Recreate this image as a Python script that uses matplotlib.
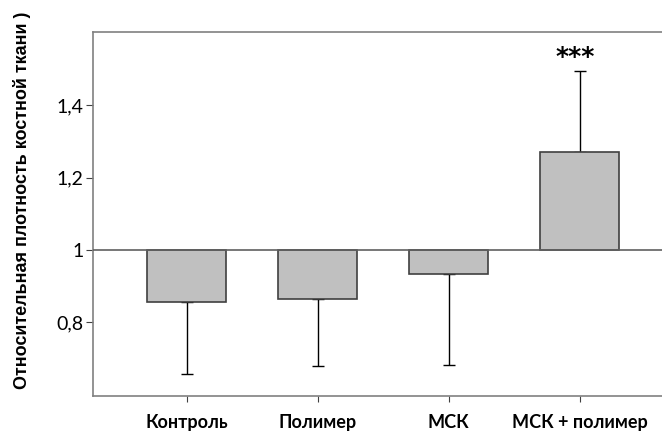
import numpy as np
import matplotlib
matplotlib.use('Agg')
import matplotlib.pyplot as plt

# Values (baseline = 1)
groups = ['Контроль', 'Полимер', 'МСК', 'МСК + полимер']
values = [0.857, 0.864, 0.933, 1.271]
errors = [0.201, 0.185, 0.252, 0.225]
y_ticks = [0.8, 1.0, 1.2, 1.4]
y_tick_labels = ['0,8', '1', '1,2', '1,4']
baseline = 1.0

plt.rcParams['font.family'] = ['Lato', 'DejaVu Sans']

fig = plt.figure(figsize=(6.62, 4.44), dpi=100)
ax = fig.add_axes([93 / 662, 48 / 444, 1 - 93 / 662 + 0.01, 364 / 444])

x = np.arange(len(groups))
heights = [v - baseline for v in values]
ax.bar(x, heights, bottom=baseline, width=0.6, color='#c0c0c0',
       edgecolor='#404040', linewidth=1.2, zorder=3)

# one-sided error bars, pointing away from the baseline
lower = [e if v < baseline else 0 for v, e in zip(values, errors)]
upper = [e if v >= baseline else 0 for v, e in zip(values, errors)]
ax.errorbar(x, values, yerr=[lower, upper], fmt='none', ecolor='black',
            elinewidth=1.0, capsize=4.5, capthick=1.0, zorder=2)

ax.axhline(baseline, color='#606060', linewidth=1.2, zorder=4)

ax.text(x[3] - 0.03, values[3] + errors[3] + 0.004, '***', ha='center',
        va='bottom', fontsize=18, fontweight='bold', family='DejaVu Sans')

ax.set_xlim(-0.715, 3.68)
ax.set_ylim(0.596, 1.603)
ax.set_yticks(y_ticks)
ax.set_yticklabels(y_tick_labels, fontsize=14)
ax.set_xticks(x)
ax.set_xticklabels(groups, fontsize=13, fontweight='bold')
ax.tick_params(axis='x', length=4, pad=9, color='#404040')
ax.tick_params(axis='y', length=5, pad=2, color='#404040')

for side in ['left', 'top', 'bottom']:
    ax.spines[side].set_color('#808080')
    ax.spines[side].set_linewidth(1.2)
ax.spines['right'].set_visible(False)

fig.text(22 / 662, 1 - 200 / 444, 'Относительная плотность костной ткани )',
         rotation=90, ha='center', va='center', fontsize=13,
         fontweight='bold', family='Liberation Sans')

fig.savefig('out.png', dpi=100)
